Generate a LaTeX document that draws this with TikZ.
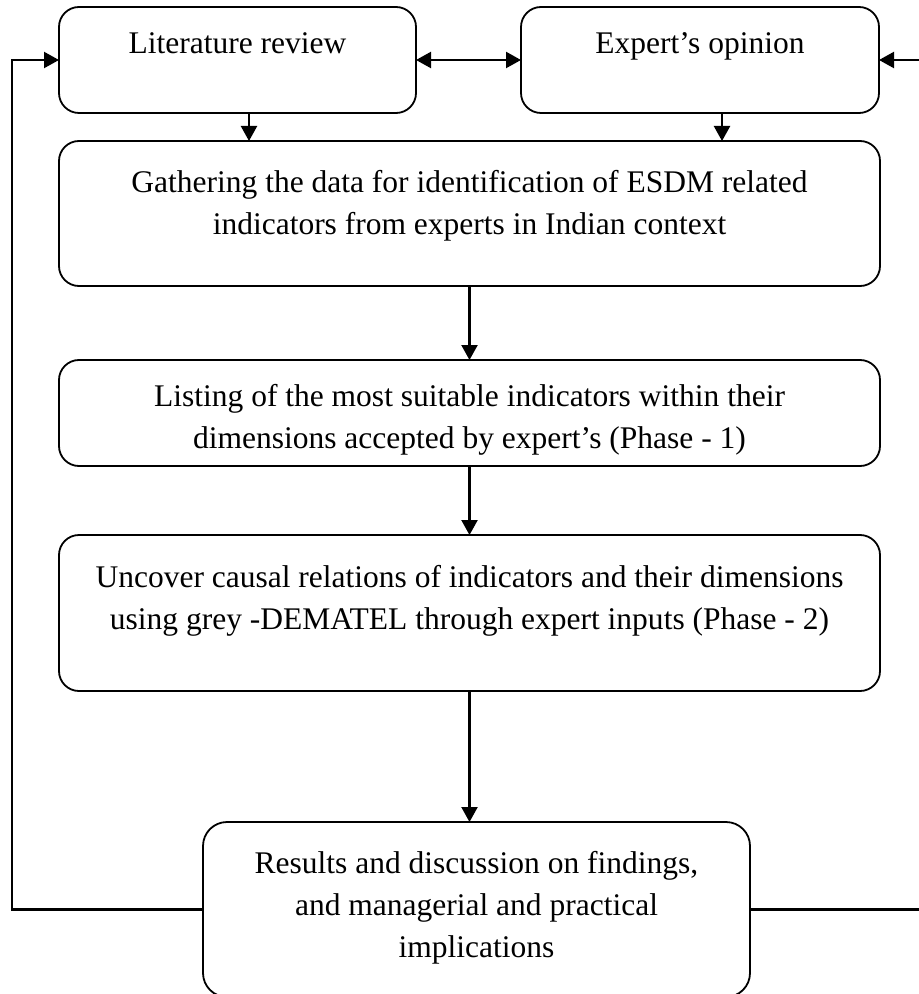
\documentclass[tikz,border=0pt]{standalone}
\usepackage{fontspec}
\setmainfont{Liberation Serif}
\usepackage{tikz}
\usetikzlibrary{positioning,arrows.meta}

\tikzset{
  box/.style={draw, line width=0.9pt, rounded corners=10pt, align=center,
    inner xsep=0pt, inner ysep=0pt, outer sep=0pt,
    font=\fontsize{15.75pt}{21pt}\selectfont},
  wire/.style={line width=1.1pt}
}

\begin{document}
\begin{tikzpicture}[x=0.5pt, y=-0.5pt, >={Triangle[length=7.5pt,width=8pt]}]

  \useasboundingbox (0,0) rectangle (919,994);

  \node[box, minimum width=178.5pt, text height=23.5pt, text depth=29.5pt, anchor=north west] (lit) at (59,7) {Literature review};
  \node[box, minimum width=179pt, text height=23.5pt, text depth=29.5pt] (expert) [right=52.5pt of lit] {Expert's opinion};
  \node[box, minimum width=410.5pt, text height=47pt, text depth=25.5pt] (gather) [below=14pt of lit.south west, anchor=north west] {Gathering the data for identification of ESDM related\\ indicators from experts in Indian context};
  \node[box, minimum width=410.5pt, text height=44pt, text depth=9pt] (listing) [below=37pt of gather] {Listing of the most suitable indicators within their\\ dimensions accepted by expert's (Phase - 1)};
  \node[box, minimum width=410.5pt, text height=47pt, text depth=31pt] (uncover) [below=34.5pt of listing] {Uncover causal relations of indicators and their dimensions\\ using grey -DEMATEL through expert inputs (Phase - 2)};
  \node[box, rounded corners=12pt, minimum width=273.5pt, text height=67.5pt, text depth=20pt] (results) [below=65.5pt of uncover, xshift=3.5pt] {Results and discussion on findings,\\ and managerial and practical\\ implications};

  \coordinate (litout) at ([xshift=5.75pt]lit.south);
  \coordinate (expertout) at ([xshift=11pt]expert.south);
  \coordinate (leftrun) at (12,0);
  \coordinate (rightrun) at (940,0);

  \path[<->, wire] (lit) edge (expert);
  \path[->, wire] (litout) edge (litout |- gather.north);
  \path[->, wire] (expertout) edge (expertout |- gather.north);
  \path[->, wire] (gather) edge (listing);
  \path[->, wire] (listing) edge (uncover);
  \draw[->, wire] (uncover.south) -- (uncover.south |- results.north);

  \draw[->, wire] (results.west) -- (results.west -| leftrun) |- (lit.west);
  \draw[->, wire] (results.east) -- (results.east -| rightrun) |- (expert.east);

\end{tikzpicture}
\end{document}
